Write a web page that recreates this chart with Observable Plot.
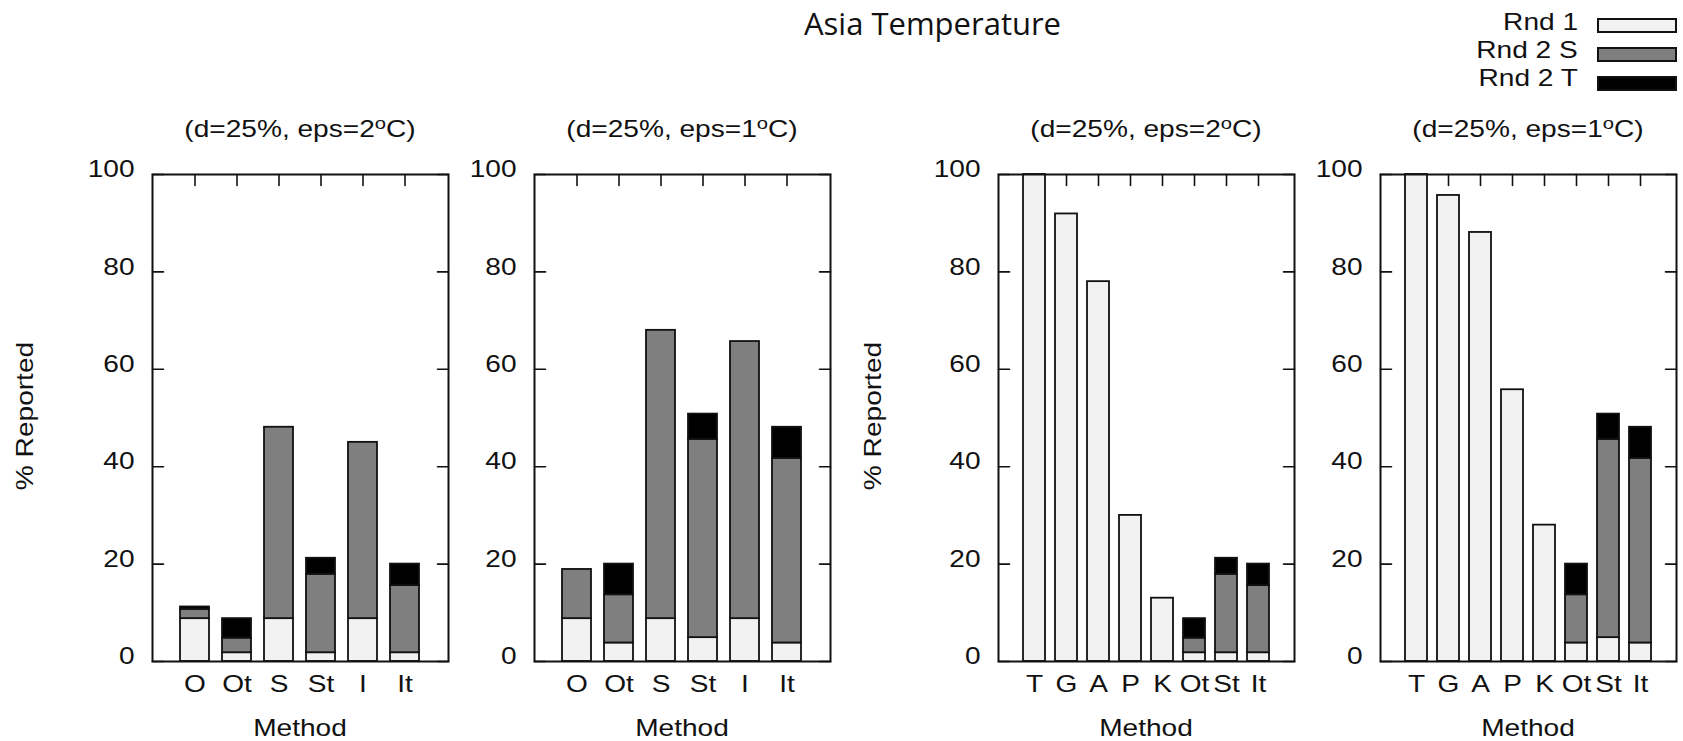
<!DOCTYPE html>
<html><head><meta charset="utf-8">
<script src="https://cdn.jsdelivr.net/npm/d3@7"></script>
<script src="https://cdn.jsdelivr.net/npm/@observablehq/plot@0.6"></script>
<style>
html,body{margin:0;padding:0;background:#fff;}
#root{position:relative;width:1683px;height:741px;overflow:hidden;font-family:"Liberation Sans",Arial,sans-serif;color:#111;}
.lbl{position:absolute;white-space:nowrap;font-size:24px;line-height:24px;}
.lbl.tight{line-height:19px;}
.title{position:absolute;white-space:nowrap;font-family:"Open Sans",sans-serif;font-size:31px;line-height:31px;color:#111;}
.sw{position:absolute;box-sizing:border-box;border:2px solid #111;}
</style></head><body><div id="root"></div>
<script>
// ---- data ----
const seriesNames = ["Rnd 1", "Rnd 2 S", "Rnd 2 T"];
const seriesColors = ["#f2f2f2", "#7f7f7f", "#000000"];
const yTicks = [0, 20, 40, 60, 80, 100];
const methodsShort = ["O", "Ot", "S", "St", "I", "It"];
const methodsLong = ["T", "G", "A", "P", "K", "Ot", "St", "It"];
const subtitleEps = ["2", "1", "2", "1"];

// panel 1: (d=25%, eps=2C), short method set
const p1Rnd1  = [8.8, 1.8, 8.8, 1.8, 8.8, 1.8];
const p1Rnd2S = [1.9, 3.0, 39.3, 16.1, 36.2, 13.8];
const p1Rnd2T = [0.5, 4.0, 0, 3.3, 0, 4.4];
// panel 2: (d=25%, eps=1C), short method set
const p2Rnd1  = [8.8, 3.8, 8.8, 4.9, 8.8, 3.8];
const p2Rnd2S = [10.1, 9.9, 59.2, 40.7, 56.9, 37.9];
const p2Rnd2T = [0, 6.3, 0, 5.2, 0, 6.4];
// panel 3: (d=25%, eps=2C), long method set
const p3Rnd1  = [100, 91.9, 78.0, 30.0, 13.0, 1.8, 1.8, 1.8];
const p3Rnd2S = [0, 0, 0, 0, 0, 3.0, 16.1, 13.8];
const p3Rnd2T = [0, 0, 0, 0, 0, 4.0, 3.3, 4.4];
// panel 4: (d=25%, eps=1C), long method set
const p4Rnd1  = [100, 95.7, 88.1, 55.8, 28.0, 3.8, 4.9, 3.8];
const p4Rnd2S = [0, 0, 0, 0, 0, 9.9, 40.7, 37.9];
const p4Rnd2T = [0, 0, 0, 0, 0, 6.3, 5.2, 6.4];

// ---- layout ----
const INK = "#111";
const STRETCH = 1.17;
const FRAME_TOP = 174, FH = 487, FW = 296;
const MT = 10, MB = 45, ML = 75, MR = 10, TL = 11;
const frameLefts = [152.3, 534.3, 997.7, 1380];

const root = document.getElementById("root");

const shapeRight = {draw(c, l) { c.moveTo(0, 0); c.lineTo(l, 0); }};
const shapeLeft  = {draw(c, l) { c.moveTo(0, 0); c.lineTo(-l, 0); }};
const shapeDown  = {draw(c, l) { c.moveTo(0, 0); c.lineTo(0, l); }};

function stretchText(svg) {
  svg.querySelectorAll("text").forEach(t => {
    const x = parseFloat(t.getAttribute("x") || "0") || 0;
    const tr = t.getAttribute("transform") || "";
    t.setAttribute("transform", `${tr} translate(${x},0) scale(${STRETCH},1)`);
    t.setAttribute("x", 0);
  });
}

function makePanel(methods, r1, r2s, r2t) {
  const rows = [];
  methods.forEach((m, i) => {
    [r1, r2s, r2t].forEach((arr, k) => {
      if (arr[i] > 0) rows.push({method: m, series: seriesNames[k], value: arr[i]});
    });
  });
  return Plot.plot({
    width: ML + FW + MR, height: MT + FH + MB,
    marginLeft: ML, marginRight: MR, marginTop: MT, marginBottom: MB,
    style: {fontFamily: '"Liberation Sans", Arial, sans-serif', fontSize: "24px", color: INK, background: "transparent", overflow: "visible"},
    x: {type: "band", domain: methods, paddingInner: 0.3, paddingOuter: 0.65, align: 0.5},
    y: {domain: [0, 100]},
    color: {type: "ordinal", domain: seriesNames, range: seriesColors},
    marks: [
      Plot.vector(yTicks, {y: d => d, frameAnchor: "left", length: TL, shape: shapeRight, anchor: "start", stroke: INK, strokeWidth: 1.6}),
      Plot.vector(yTicks, {y: d => d, frameAnchor: "right", length: TL, shape: shapeLeft, anchor: "start", stroke: INK, strokeWidth: 1.6}),
      Plot.vector(methods, {x: d => d, frameAnchor: "top", length: TL, shape: shapeDown, anchor: "start", stroke: INK, strokeWidth: 1.6}),
      Plot.barY(rows, {x: "method", y: "value", fill: "series", stroke: INK, strokeWidth: 1.8}),
      Plot.frame({stroke: INK, strokeWidth: 2}),
      Plot.axisY({ticks: yTicks, anchor: "left", tickSize: 0, tickPadding: 18, dy: -5, label: null, fontSize: 24}),
      Plot.axisX({anchor: "bottom", tickSize: 0, tickPadding: 13, label: null, fontSize: 24})
    ]
  });
}

const panels = [
  [methodsShort, p1Rnd1, p1Rnd2S, p1Rnd2T],
  [methodsShort, p2Rnd1, p2Rnd2S, p2Rnd2T],
  [methodsLong, p3Rnd1, p3Rnd2S, p3Rnd2T],
  [methodsLong, p4Rnd1, p4Rnd2S, p4Rnd2T]
];

function addLabel(html, cx, cy, extra = "", cls = "lbl") {
  const d = document.createElement("div");
  d.className = cls;
  d.innerHTML = html;
  d.style.left = cx + "px";
  d.style.top = cy + "px";
  d.style.transform = `translate(-50%,-50%) ${extra}`;
  root.appendChild(d);
  return d;
}

panels.forEach((p, i) => {
  const svg = makePanel(...p);
  stretchText(svg);
  svg.style.position = "absolute";
  svg.style.left = (frameLefts[i] - ML) + "px";
  svg.style.top = (FRAME_TOP - MT) + "px";
  root.appendChild(svg);
  const cx = frameLefts[i] + FW / 2;
  addLabel(`(d=25%, eps=${subtitleEps[i]}<span style="font-size:0.72em;position:relative;top:-8px">o</span>C)`, cx, 130, `scaleX(${STRETCH})`);
  addLabel("Method", cx, 727, `scaleX(${STRETCH})`, "lbl tight");
});

addLabel("% Reported", 25, 416, `rotate(-90deg) scaleX(${STRETCH})`);
addLabel("% Reported", 872.5, 416, `rotate(-90deg) scaleX(${STRETCH})`);

// title
const t = addLabel("Asia Temperature", 932.5, 24, "", "title");
t.style.transform = "translate(-50%,-53%)";

// legend
const legendTextCenters = [22, 50, 78];
const legendSwatchTops = [18, 47, 76];
seriesNames.forEach((name, k) => {
  const d = document.createElement("div");
  d.className = "lbl";
  d.textContent = name;
  d.style.right = (1683 - 1578) + "px";
  d.style.top = (legendTextCenters[k] - 12) + "px";
  d.style.transformOrigin = "right center";
  d.style.transform = `scaleX(${STRETCH})`;
  root.appendChild(d);
  const s = document.createElement("div");
  s.className = "sw";
  s.style.left = "1597px";
  s.style.top = legendSwatchTops[k] + "px";
  s.style.width = "80px";
  s.style.height = "15px";
  s.style.background = seriesColors[k];
  root.appendChild(s);
});
</script>
</body></html>
